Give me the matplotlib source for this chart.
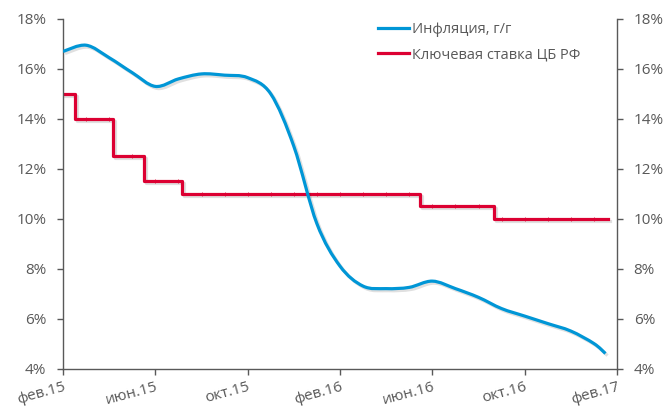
import numpy as np
import matplotlib
matplotlib.use('Agg')
import matplotlib.pyplot as plt
from matplotlib.path import Path
from matplotlib.patches import PathPatch
from matplotlib.lines import Line2D
import matplotlib.patheffects as pe

plt.rcParams['font.family'] = ['Open Sans', 'DejaVu Sans']

# months since feb 2015
infl_x = [0, 1, 2, 3, 4, 5, 6, 7, 8, 9, 10, 11, 12, 13, 14, 15, 16, 17, 18, 19, 20, 21, 22, 23, 23.5]
infl_y = [16.7, 16.95, 16.45, 15.85, 15.3, 15.6, 15.8, 15.75, 15.65, 15.0, 12.9, 9.8, 8.1,
          7.3, 7.2, 7.25, 7.5, 7.2, 6.85, 6.4, 6.1, 5.8, 5.5, 5.0, 4.6]

rate_x = [0, 0.52, 2.15, 3.52, 5.14, 15.47, 18.65, 23.6]
rate_y = [15, 14, 12.5, 11.5, 11, 10.5, 10, 10]

tick_pos = [0, 4, 8, 12, 16, 20, 24]
tick_lab = ['фев.15', 'июн.15', 'окт.15', 'фев.16', 'июн.16', 'окт.16', 'фев.17']

BLUE = '#0096d6'
RED = '#dc0032'
GREY = '#595959'


def smooth_path(x, y):
    # excel style smoothed line: bezier segments through the points
    p = np.column_stack([x, y]).astype(float)
    verts = [p[0]]
    codes = [Path.MOVETO]
    n = len(p)
    for i in range(n - 1):
        p0 = p[i - 1] if i > 0 else p[i]
        p1 = p[i]
        p2 = p[i + 1]
        p3 = p[i + 2] if i + 2 < n else p[i + 1]
        c1 = p1 + (p2 - p0) / 6.0
        c2 = p2 - (p3 - p1) / 6.0
        verts += [c1, c2, p2]
        codes += [Path.CURVE4] * 3
    return Path(verts, codes)


fig = plt.figure(figsize=(6.67, 4.12), dpi=100)
ax = fig.add_axes([63 / 667, 1 - 368.5 / 412, (617 - 63) / 667, (368.5 - 19) / 412])

shadow = [pe.SimpleLineShadow(offset=(1.5, -1.5), alpha=0.12, shadow_color='k'), pe.Normal()]

patch = PathPatch(smooth_path(infl_x, infl_y), fill=False, edgecolor=BLUE, lw=2.3,
                  capstyle='butt', joinstyle='round', path_effects=shadow, zorder=3)
ax.add_patch(patch)

ax.plot(rate_x, rate_y, drawstyle='steps-post', color=RED, lw=2.3, path_effects=shadow, zorder=2)

# small joints visible on the key rate line
months = np.arange(1, 24)
idx = np.searchsorted(rate_x, months, side='right') - 1
ax.plot(months, np.array(rate_y)[idx], ls='none', marker='|', ms=3, mew=0.7, color=RED,
        alpha=0.8, zorder=2)

ax.set_xlim(0, 24)
ax.set_ylim(4, 18)
ax.set_yticks(np.arange(4, 19, 2))
ax.set_yticklabels(['%d%%' % v for v in np.arange(4, 19, 2)])
ax.set_xticks(tick_pos)
ax.set_xticklabels(tick_lab, rotation=15, ha='right', rotation_mode='anchor')

for s in ['left', 'right', 'bottom']:
    ax.spines[s].set_color(GREY)
    ax.spines[s].set_linewidth(1.0)
ax.spines['top'].set_visible(False)
ax.tick_params(axis='y', which='both', direction='out', length=4, width=1, color=GREY,
               labelcolor=GREY, labelsize=11, right=True, labelright=True, pad=8)
ax.tick_params(axis='x', direction='out', length=4, width=1, color=GREY,
               labelcolor=GREY, labelsize=11, pad=4)

handles = [Line2D([], [], color=BLUE, lw=2.3), Line2D([], [], color=RED, lw=2.3)]
ax.legend(handles, ['Инфляция, г/г', 'Ключевая ставка ЦБ РФ'], loc='upper left',
          bbox_to_anchor=(378 / 667, 1 - 22 / 412), bbox_transform=fig.transFigure,
          frameon=False, fontsize=10.5, handlelength=2.1, handletextpad=0.2,
          labelspacing=0.7, borderpad=0, borderaxespad=0, labelcolor=GREY)

fig.savefig('out.png', dpi=100)
